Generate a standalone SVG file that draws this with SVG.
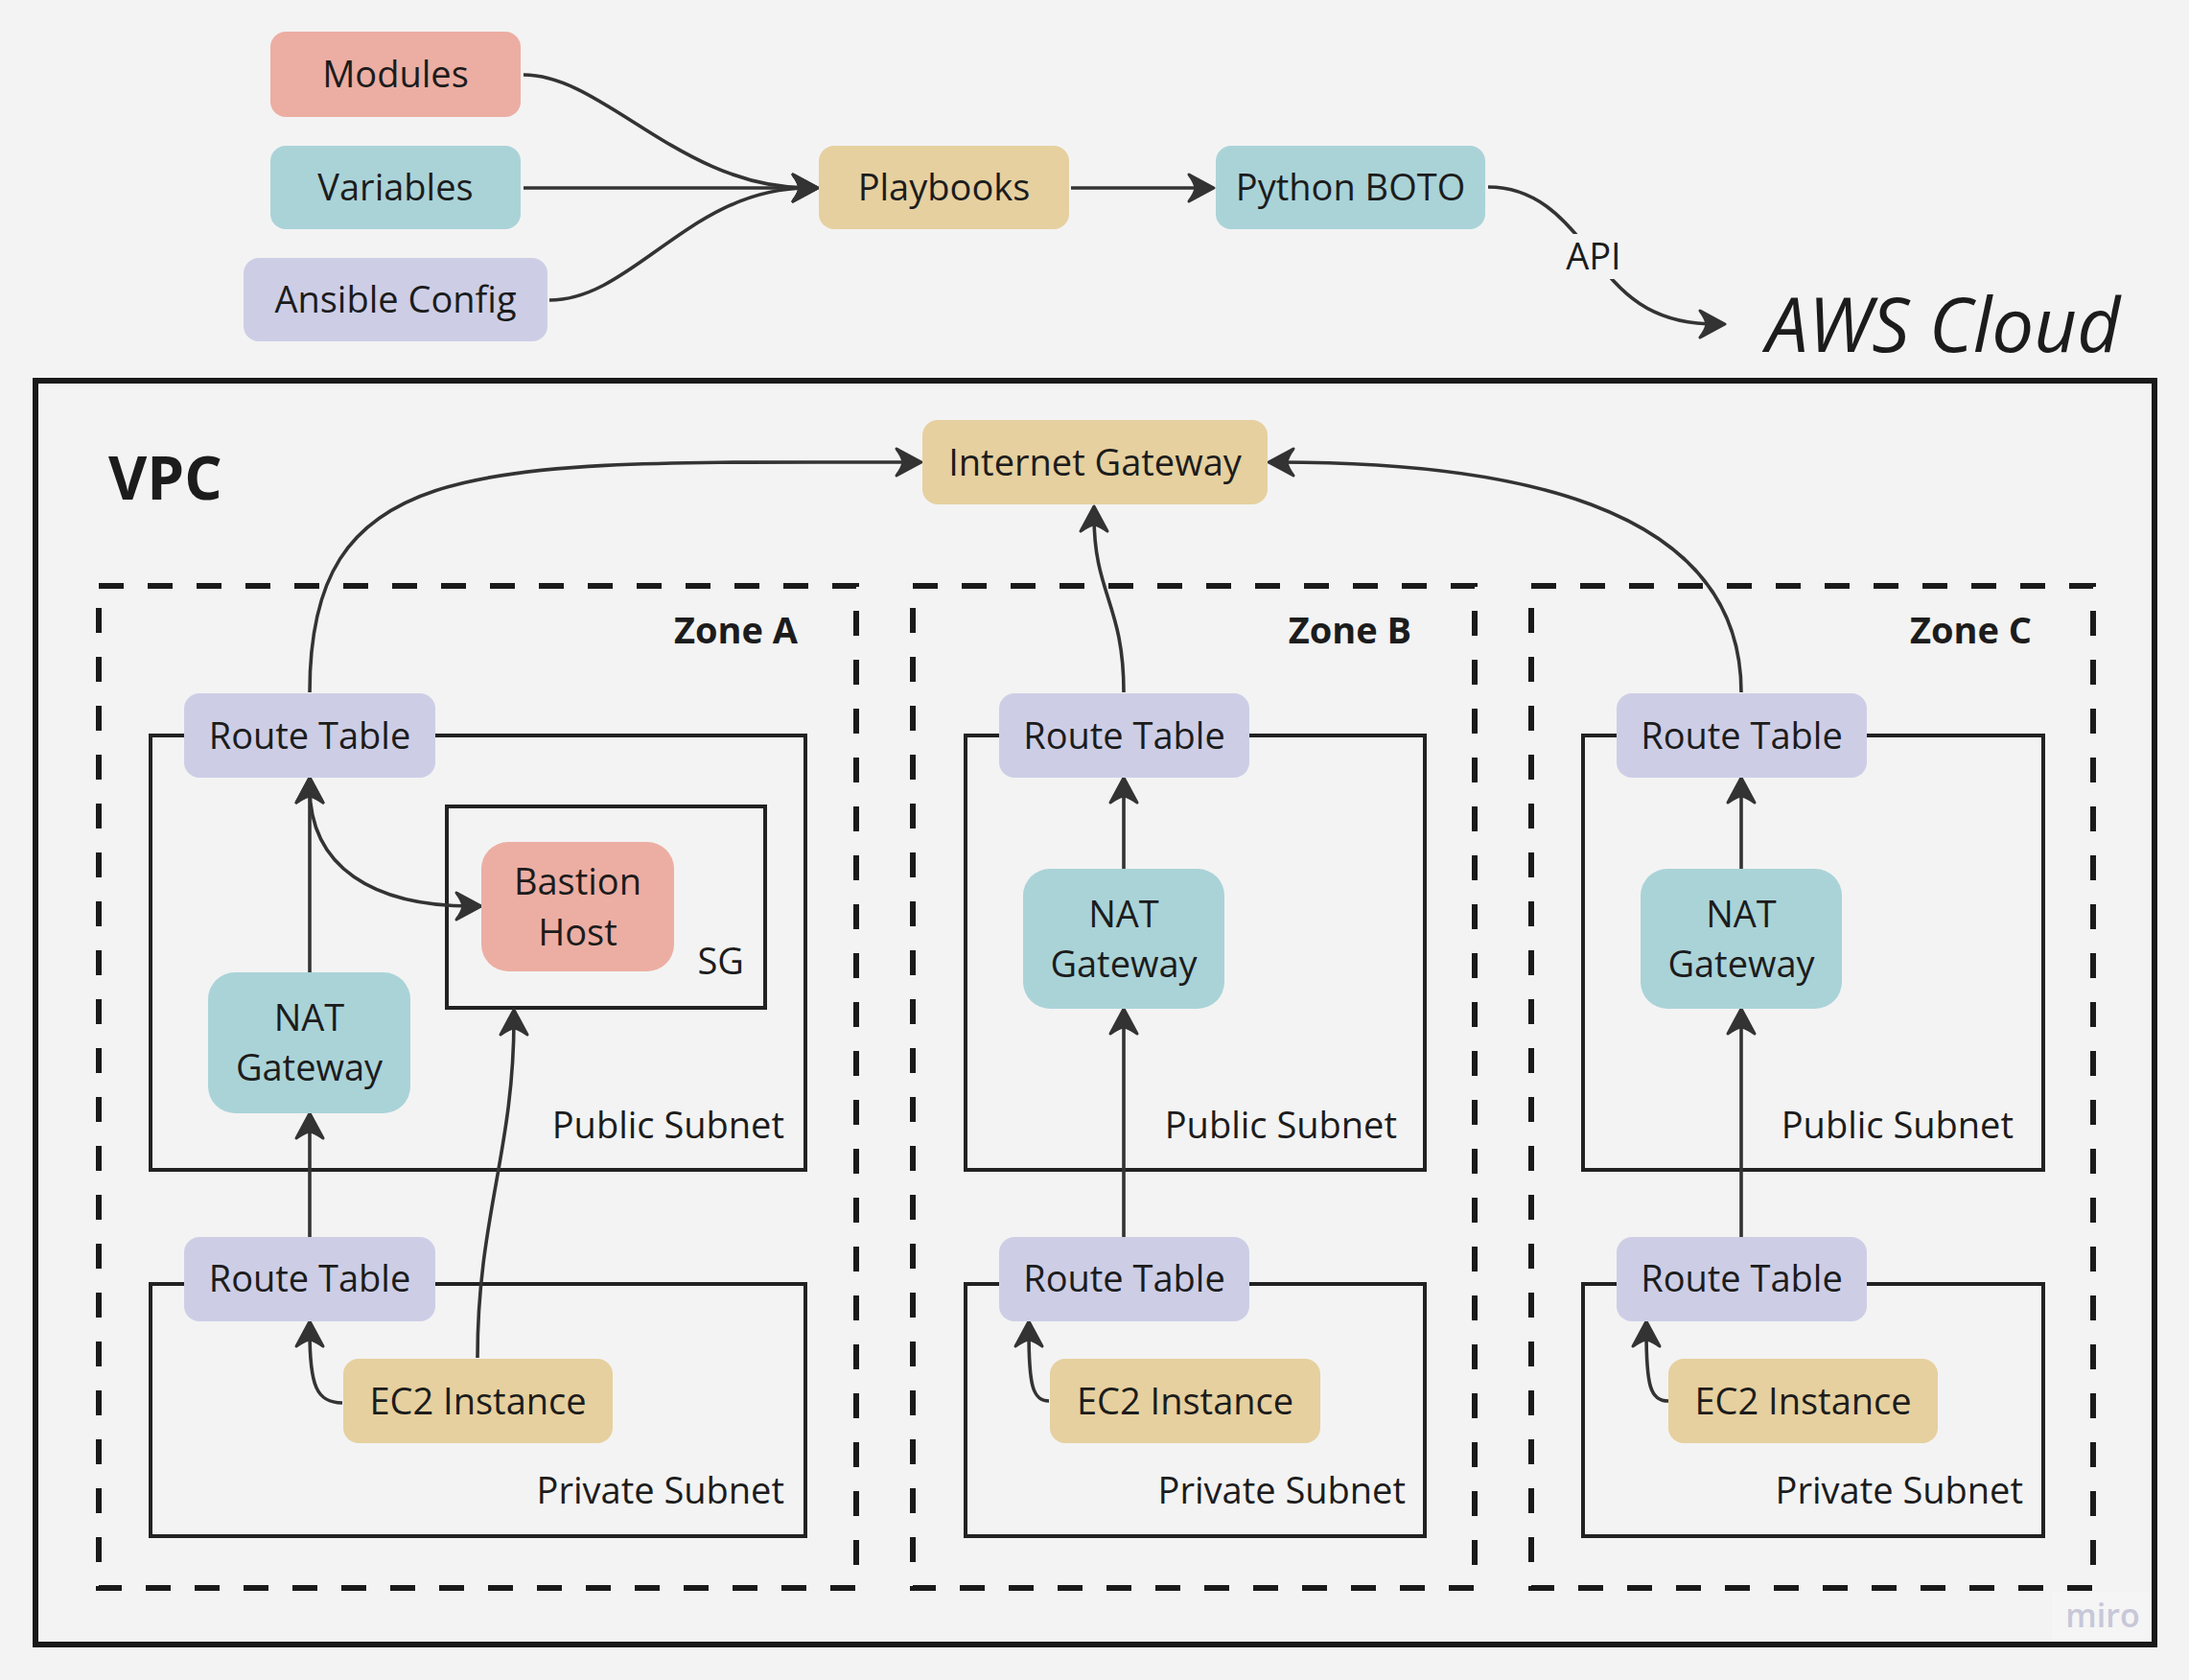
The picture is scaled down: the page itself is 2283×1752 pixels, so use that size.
<svg xmlns="http://www.w3.org/2000/svg" width="2283" height="1752" viewBox="0 0 2283 1752">
<style>
text{font-family:"Open Sans","Noto Sans","Liberation Sans",sans-serif;fill:#1c1c1c;font-size:38px}
.c{text-anchor:middle}
.e{text-anchor:end}
.b{font-weight:700}
.pink{fill:#ECAEA3}
.teal{fill:#AAD3D8}
.lav{fill:#CDCEE6}
.tan{fill:#E6D09F}
.box{fill:none;stroke:#222;stroke-width:4}
.zone{fill:none;stroke:#1a1a1a;stroke-width:6;stroke-dasharray:26 25}
.conn path{fill:none;stroke:#333;stroke-width:3.6;marker-end:url(#arr)}
</style>
<defs>
<marker id="arr" markerUnits="userSpaceOnUse" markerWidth="38" markerHeight="38" viewBox="-20 -19 38 38" refX="0" refY="0" orient="auto-start-reverse">
<path d="M10,0 L-16,-14 Q-10,-6 -9,0 Q-10,6 -16,14 Z" fill="#333" stroke="#333" stroke-width="3" stroke-linejoin="round"/>
</marker>
</defs>
<rect width="2283" height="1752" fill="#F3F3F3"/>

<g id="vpc">
<rect x="37" y="397" width="2210" height="1318" fill="none" stroke="#1a1a1a" stroke-width="6"/>
<text x="113" y="521" class="b" style="font-size:62px">VPC</text>
</g>
<g id="zone-a"><rect class="zone" x="103" y="611" width="790" height="1045"/><text x="832" y="671" class="e b">Zone A</text></g>
<g id="zone-b"><rect class="zone" x="952" y="611" width="586" height="1045"/><text x="1472" y="671" class="e b">Zone B</text></g>
<g id="zone-c"><rect class="zone" x="1597" y="611" width="586" height="1045"/><text x="2119" y="671" class="e b">Zone C</text></g>

<g id="public-subnet-a"><rect class="box" x="157" y="767" width="683" height="453"/><text x="818" y="1187" class="e">Public Subnet</text></g>
<g id="private-subnet-a"><rect class="box" x="157" y="1339" width="683" height="263"/><text x="818" y="1568" class="e">Private Subnet</text></g>
<g id="public-subnet-b"><rect class="box" x="1007" y="767" width="479" height="453"/><text x="1457" y="1187" class="e">Public Subnet</text></g>
<g id="private-subnet-b"><rect class="box" x="1007" y="1339" width="479" height="263"/><text x="1466" y="1568" class="e">Private Subnet</text></g>
<g id="public-subnet-c"><rect class="box" x="1651" y="767" width="480" height="453"/><text x="2100" y="1187" class="e">Public Subnet</text></g>
<g id="private-subnet-c"><rect class="box" x="1651" y="1339" width="480" height="263"/><text x="2110" y="1568" class="e">Private Subnet</text></g>
<g id="sg"><rect class="box" x="466" y="841" width="332" height="210"/><text x="776" y="1016" class="e">SG</text></g>

<g id="connectors" class="conn">
<path d="M546,78 C630,78 710,196 843,196"/>
<path d="M546,196 L843,196"/>
<path d="M573,313 C660,313 720,196 843,196"/>
<path d="M1117,196 L1256,196"/>
<path d="M1552,195 C1600,195 1630,225 1660,265 C1690,305 1720,338 1789,338"/>
<path d="M323,722 C323,470 500,482 951,482"/>
<path d="M1172,722 C1172,630 1141,620 1141,538"/>
<path d="M1816,722 C1816,520 1560,482 1333,482"/>
<path d="M323,1014 L323,821"/>
<path d="M323,821 C323,905 390,945 492,945" style="marker-start:url(#arr)"/>
<path d="M323,1290 L323,1171"/>
<path d="M357,1463 C330,1463 323,1445 323,1388"/>
<path d="M498,1416 C498,1270 536,1200 536,1063"/>
<path d="M1172,906 L1172,821"/>
<path d="M1172,1290 L1172,1062"/>
<path d="M1094,1461 C1077,1461 1073,1445 1073,1388"/>
<path d="M1816,906 L1816,821"/>
<path d="M1816,1290 L1816,1062"/>
<path d="M1740,1461 C1721,1461 1717,1445 1717,1388"/>
</g>
<g id="api-label">
<rect x="1628" y="244" width="70" height="47" fill="#F3F3F3"/>
<text x="1662" y="281" class="c">API</text>
</g>

<g id="modules"><rect class="pink" x="282" y="33" width="261" height="89" rx="16"/><text x="412.5" y="91" class="c">Modules</text></g>
<g id="variables"><rect class="teal" x="282" y="152" width="261" height="87" rx="16"/><text x="412.5" y="209" class="c">Variables</text></g>
<g id="ansible-config"><rect class="lav" x="254" y="269" width="317" height="87" rx="16"/><text x="412.5" y="326" class="c">Ansible Config</text></g>
<g id="playbooks"><rect class="tan" x="854" y="152" width="261" height="87" rx="16"/><text x="984.5" y="209" class="c">Playbooks</text></g>
<g id="python-boto"><rect class="teal" x="1268" y="152" width="281" height="87" rx="16"/><text x="1408.5" y="209" class="c">Python BOTO</text></g>
<g id="aws-cloud"><text x="1842" y="367" style="font-size:78px;font-style:italic">AWS Cloud</text></g>

<g id="internet-gateway"><rect class="tan" x="962" y="438" width="360" height="88" rx="16"/><text x="1142" y="495.5" class="c">Internet Gateway</text></g>

<g id="route-table-public-a"><rect class="lav" x="192" y="723" width="262" height="88" rx="16"/><text x="323" y="780.5" class="c">Route Table</text></g>
<g id="route-table-public-b"><rect class="lav" x="1042" y="723" width="261" height="88" rx="16"/><text x="1172.5" y="780.5" class="c">Route Table</text></g>
<g id="route-table-public-c"><rect class="lav" x="1686" y="723" width="261" height="88" rx="16"/><text x="1816.5" y="780.5" class="c">Route Table</text></g>

<g id="route-table-private-a"><rect class="lav" x="192" y="1290" width="262" height="88" rx="16"/><text x="323" y="1347" class="c">Route Table</text></g>
<g id="route-table-private-b"><rect class="lav" x="1042" y="1290" width="261" height="88" rx="16"/><text x="1172.5" y="1347" class="c">Route Table</text></g>
<g id="route-table-private-c"><rect class="lav" x="1686" y="1290" width="261" height="88" rx="16"/><text x="1816.5" y="1347" class="c">Route Table</text></g>

<g id="nat-gateway-a"><rect class="teal" x="217" y="1014" width="211" height="147" rx="28"/><text x="322.5" y="1075" class="c">NAT</text><text x="322.5" y="1127" class="c">Gateway</text></g>
<g id="nat-gateway-b"><rect class="teal" x="1067" y="906" width="210" height="146" rx="28"/><text x="1172" y="966.5" class="c">NAT</text><text x="1172" y="1018.5" class="c">Gateway</text></g>
<g id="nat-gateway-c"><rect class="teal" x="1711" y="906" width="210" height="146" rx="28"/><text x="1816" y="966.5" class="c">NAT</text><text x="1816" y="1018.5" class="c">Gateway</text></g>

<g id="bastion-host"><rect class="pink" x="502" y="878" width="201" height="135" rx="28"/><text x="602.5" y="933" class="c">Bastion</text><text x="602.5" y="986" class="c">Host</text></g>

<g id="ec2-a"><rect class="tan" x="358" y="1417" width="281" height="88" rx="16"/><text x="498.5" y="1474.5" class="c">EC2 Instance</text></g>
<g id="ec2-b"><rect class="tan" x="1095" y="1417" width="282" height="88" rx="16"/><text x="1236" y="1474.5" class="c">EC2 Instance</text></g>
<g id="ec2-c"><rect class="tan" x="1740" y="1417" width="281" height="88" rx="16"/><text x="1880.5" y="1474.5" class="c">EC2 Instance</text></g>

<g id="watermark"><rect x="2140" y="1660" width="104" height="52" fill="#F5F5F5"/><text x="2193" y="1697" class="c" style="font-size:34px;font-weight:600;fill:#C8C7D8">miro</text></g>
</svg>
